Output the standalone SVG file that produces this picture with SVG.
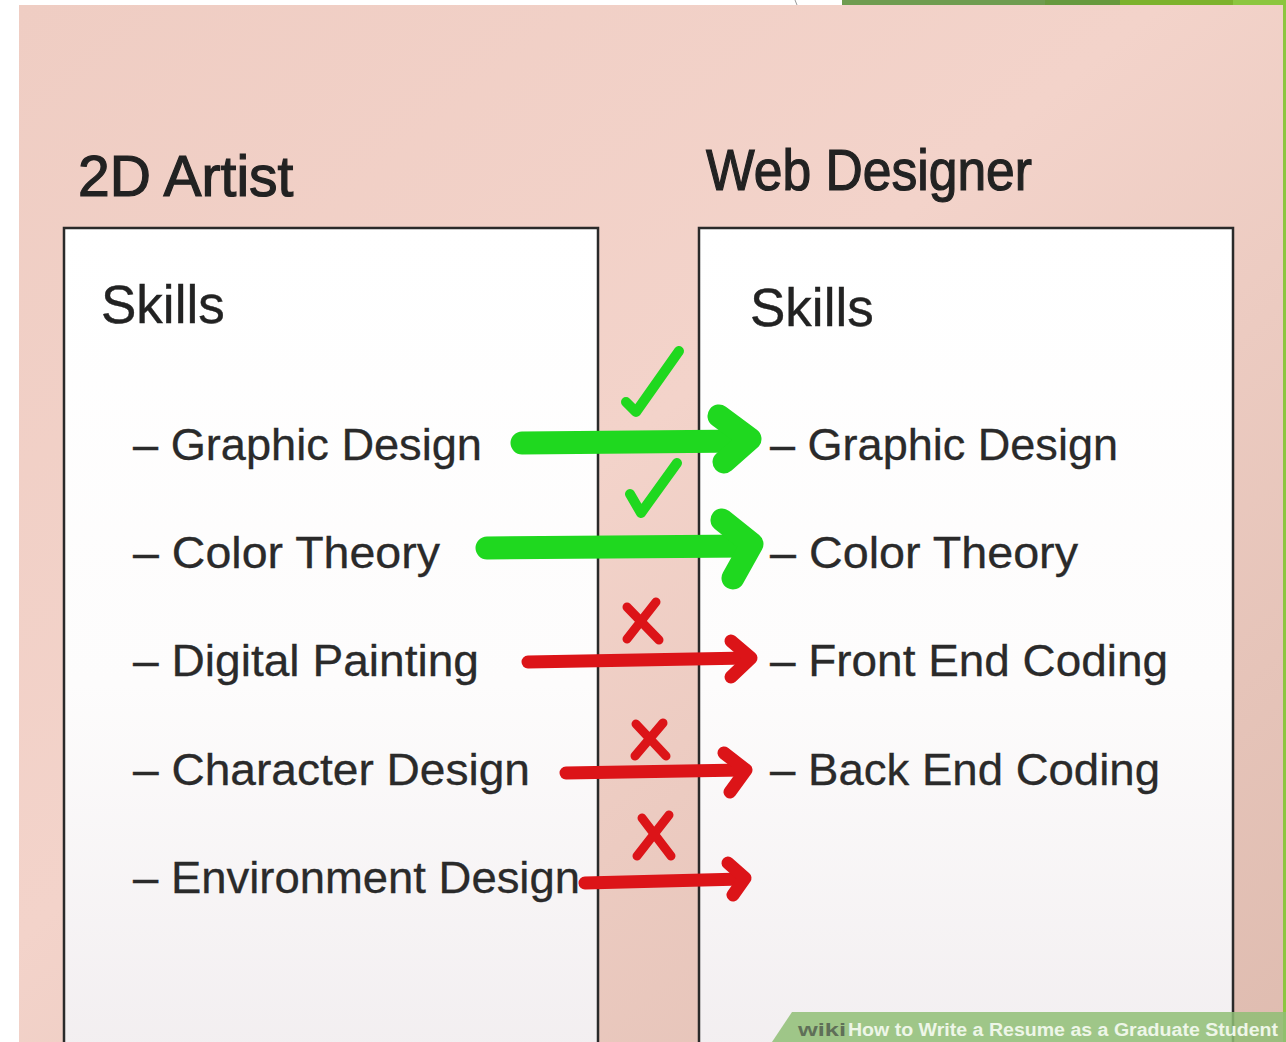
<svg xmlns="http://www.w3.org/2000/svg" width="1286" height="1042" viewBox="0 0 1286 1042">
<defs>
<linearGradient id="bg" x1="0" y1="0" x2="1" y2="1">
<stop offset="0" stop-color="#efcdc3"/>
<stop offset="0.45" stop-color="#f3d3ca"/>
<stop offset="1" stop-color="#dfbcb0"/>
</linearGradient>
<linearGradient id="panel" x1="0" y1="0" x2="0" y2="1">
<stop offset="0" stop-color="#ffffff"/>
<stop offset="0.55" stop-color="#fdfcfc"/>
<stop offset="1" stop-color="#f2eef0"/>
</linearGradient>
<style>
.title{font-family:"Liberation Sans",Arial,sans-serif;font-size:57px;fill:#222;stroke:#222;stroke-width:1.2;}
.skills{font-family:"Liberation Sans",Arial,sans-serif;font-size:53px;fill:#222;stroke:#222;stroke-width:0.4;}
.item{font-family:"Liberation Sans",Arial,sans-serif;font-size:45px;fill:#2a2a2a;stroke:#2a2a2a;stroke-width:0.3;}
.box{fill:url(#panel);stroke:#2a2a2a;stroke-width:2.5;}
.g{fill:none;stroke:#1fd81f;stroke-linecap:round;stroke-linejoin:round;}
.r{fill:none;stroke:#dc1418;stroke-linecap:round;stroke-linejoin:round;}
.wm{font-family:"Liberation Sans",Arial,sans-serif;font-size:18px;font-weight:bold;}
</style>
</defs>
<rect x="0" y="0" width="1286" height="1042" fill="#ffffff"/>
<rect x="19" y="5" width="1267" height="1037" fill="url(#bg)"/>
<rect x="842" y="0" width="203" height="5" fill="#6f9c50"/>
<rect x="1045" y="0" width="75" height="5" fill="#67993e"/>
<rect x="1120" y="0" width="113" height="5" fill="#7db22c"/>
<rect x="1233" y="0" width="53" height="5" fill="#8cc63f"/>
<rect x="1283" y="5" width="3" height="1037" fill="#8cc63f"/>
<line x1="795" y1="0" x2="797" y2="5" stroke="#999" stroke-width="1"/>

<g id="left-panel">
<text class="title" x="78" y="196">2D Artist</text>
<rect class="box" x="64" y="228" width="534" height="830"/>
<text class="skills" x="101" y="323">Skills</text>
<text class="item" x="133" y="460" textLength="349" lengthAdjust="spacingAndGlyphs">– Graphic Design</text>
<text class="item" x="133" y="568" textLength="307" lengthAdjust="spacingAndGlyphs">– Color Theory</text>
<text class="item" x="133" y="676" textLength="346" lengthAdjust="spacingAndGlyphs">– Digital Painting</text>
<text class="item" x="133" y="785" textLength="397" lengthAdjust="spacingAndGlyphs">– Character Design</text>
<text class="item" x="133" y="893" textLength="447" lengthAdjust="spacingAndGlyphs">– Environment Design</text>
</g>

<g id="right-panel">
<text class="title" x="706" y="190" textLength="326" lengthAdjust="spacingAndGlyphs">Web Designer</text>
<rect class="box" x="699" y="228" width="534" height="830"/>
<text class="skills" x="750" y="326">Skills</text>
<text class="item" x="770" y="460" textLength="348" lengthAdjust="spacingAndGlyphs">– Graphic Design</text>
<text class="item" x="770" y="568" textLength="308" lengthAdjust="spacingAndGlyphs">– Color Theory</text>
<text class="item" x="770" y="676" textLength="398" lengthAdjust="spacingAndGlyphs">– Front End Coding</text>
<text class="item" x="770" y="785" textLength="390" lengthAdjust="spacingAndGlyphs">– Back End Coding</text>
</g>

<g id="connectors">
<g id="match-graphic-design">
<path class="g" stroke-width="10" d="M626,402 L636,412 L679,351"/>
<path class="g" stroke-width="23" d="M522,443 L745,441"/>
<path class="g" stroke-width="23" d="M719,416 L750,439 L724,462"/>
</g>
<g id="match-color-theory">
<path class="g" stroke-width="10" d="M630,494 L641,513 L677,463"/>
<path class="g" stroke-width="23" d="M487,548 L748,546"/>
<path class="g" stroke-width="23" d="M722,520 L752,544 L733,578"/>
</g>
<g id="no-digital-painting">
<path class="r" stroke-width="9" d="M627,607 L659,640 M656,602 L627,639"/>
<path class="r" stroke-width="13" d="M528,662 L748,658"/>
<path class="r" stroke-width="13" d="M731,641 L751,658 L731,677"/>
</g>
<g id="no-character-design">
<path class="r" stroke-width="9" d="M636,724 L666,756 M663,723 L635,756"/>
<path class="r" stroke-width="13" d="M566,773 L743,770"/>
<path class="r" stroke-width="13" d="M724,753 L746,770 L730,792"/>
</g>
<g id="no-environment-design">
<path class="r" stroke-width="9" d="M642,818 L671,856 M669,815 L637,856"/>
<path class="r" stroke-width="13" d="M585,883 L742,879"/>
<path class="r" stroke-width="13" d="M728,863 L745,878 L733,895"/>
</g>
</g>

<g id="watermark">
<polygon points="792,1012 1286,1012 1286,1042 772,1042" fill="#8fbe76" opacity="0.85"/>
<text class="wm" x="798" y="1036" fill="#5f6f58" textLength="48" lengthAdjust="spacingAndGlyphs">wiki</text>
<text class="wm" x="848" y="1036" fill="#eef6e8" textLength="430" lengthAdjust="spacingAndGlyphs">How to Write a Resume as a Graduate Student</text>
</g>
</svg>
